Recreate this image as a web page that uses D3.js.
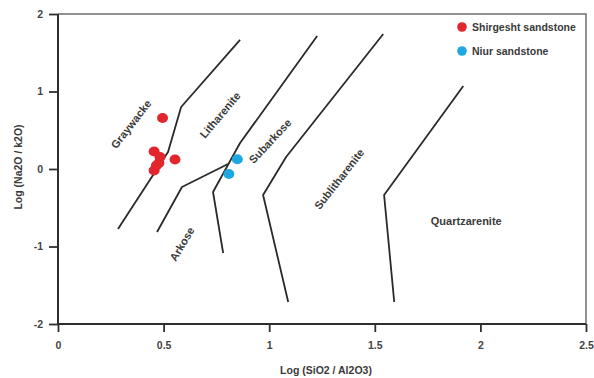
<!DOCTYPE html>
<html>
<head>
<meta charset="utf-8">
<script src="https://cdn.jsdelivr.net/npm/d3@7/dist/d3.min.js"></script>
<style>
  html, body { margin: 0; padding: 0; background: #fff; }
  svg text { font-family: "Liberation Sans", Arial, sans-serif; }
</style>
</head>
<body>
<svg id="chart" width="594" height="378"></svg>
<script>
// Axis ticks
const xTicks = [0, 0.5, 1, 1.5, 2, 2.5];
const yTicks = [-2, -1, 0, 1, 2];

// Samples: log(SiO2/Al2O3), log(Na2O/K2O)
const shirgeshtX = [0.495, 0.455, 0.483, 0.478, 0.455, 0.554, 0.466];
const shirgeshtY = [0.658, 0.226, 0.155, 0.077, -0.019, 0.123, 0.045];
const niurX = [0.849, 0.809];
const niurY = [0.126, -0.065];

// Classification field boundaries (Pettijohn et al.)
const boundaryGraywacke = [[0.862, 1.665], [0.583, 0.800], [0.521, 0.219], [0.284, -0.774]];
const boundaryArkose = [[0.469, -0.813], [0.587, -0.232], [0.805, 0.065]];
const boundarySubarkose = [[0.782, -1.084], [0.734, -0.297], [0.862, 0.335], [1.227, 1.716]];
const boundarySublith = [[1.090, -1.716], [0.971, -0.335], [1.080, 0.155], [1.540, 1.742]];
const boundaryQuartz = [[1.592, -1.716], [1.544, -0.335], [1.919, 1.071]];

// Field names and their anchor points
const fieldNames = ["Graywacke", "Litharenite", "Subarkose", "Sublitharenite", "Arkose", "Quartzarenite"];
const fieldX = [0.346, 0.767, 1.004, 1.331, 0.587, 1.933];
const fieldY = [0.580, 0.697, 0.361, -0.129, -0.968, -0.671];
const fieldAngle = [-52, -50, -47, -52, -59, 0];

const seriesNames = ["Shirgesht sandstone", "Niur sandstone"];
const seriesColors = ["#e2262e", "#1fa8e0"];

const svg = d3.select("#chart");
const plotLeft = 58, plotRight = 586, plotTop = 14, plotBottom = 324;

const x = d3.scaleLinear().domain([0, 2.5]).range([plotLeft, plotRight]);
const y = d3.scaleLinear().domain([-2, 2]).range([plotBottom, plotTop]);

// Frame (top and right)
svg.append("path")
  .attr("d", `M${plotLeft},${plotTop}H${plotRight}V${plotBottom}`)
  .attr("fill", "none").attr("stroke", "#6e6e6e").attr("stroke-width", 1.5);

// Axes
const xAxis = svg.append("g").attr("transform", `translate(0,${plotBottom})`)
  .call(d3.axisBottom(x).tickValues(xTicks).tickSize(8).tickPadding(10)
    .tickFormat(d => String(d)));
const yAxis = svg.append("g").attr("transform", `translate(${plotLeft},0)`)
  .call(d3.axisLeft(y).tickValues(yTicks).tickSize(9).tickPadding(6)
    .tickFormat(d => String(d)));

[xAxis, yAxis].forEach(g => {
  g.select(".domain").attr("stroke", "#2e2e2e").attr("stroke-width", 2);
  g.selectAll(".tick line").attr("stroke", "#2e2e2e").attr("stroke-width", 1.8);
  g.selectAll(".tick text").attr("fill", "#444").attr("font-size", 10.5)
    .attr("font-weight", "bold").attr("font-family", "Liberation Sans, Arial, sans-serif");
});
xAxis.select(".domain").attr("d", `M${plotLeft},0H${plotRight}`);
yAxis.select(".domain").attr("d", `M0,${plotTop}V${plotBottom}`);

// Axis titles
svg.append("text")
  .attr("x", 326).attr("y", 374)
  .attr("text-anchor", "middle")
  .attr("font-size", 10.5).attr("font-weight", "bold").attr("fill", "#3a3a3a")
  .text("Log (SiO2 / Al2O3)");
svg.append("text")
  .attr("transform", "translate(22,167) rotate(-90)")
  .attr("text-anchor", "middle")
  .attr("font-size", 10.5).attr("font-weight", "bold").attr("fill", "#3a3a3a")
  .text("Log (Na2O / k2O)");

// Boundary lines
const line = d3.line().x(d => x(d[0])).y(d => y(d[1]));
[boundaryGraywacke, boundaryArkose, boundarySubarkose, boundarySublith, boundaryQuartz]
  .forEach(b => {
    svg.append("path").attr("d", line(b))
      .attr("fill", "none").attr("stroke", "#2a2a2a").attr("stroke-width", 1.8)
      .attr("stroke-linejoin", "round");
  });

// Field labels
svg.append("g").selectAll("text").data(fieldNames).join("text")
  .attr("transform", (d, i) => `translate(${x(fieldX[i])},${y(fieldY[i])}) rotate(${fieldAngle[i]})`)
  .attr("text-anchor", "middle").attr("dominant-baseline", "central")
  .attr("font-size", 11).attr("font-weight", "bold").attr("fill", "#3a3a3a")
  .text(d => d);

// Sample points
const drawPoints = (xs, ys, color) => {
  svg.append("g").selectAll("ellipse").data(xs).join("ellipse")
    .attr("cx", (d, i) => x(xs[i])).attr("cy", (d, i) => y(ys[i]))
    .attr("rx", 5.5).attr("ry", 5)
    .attr("fill", color);
};
drawPoints(shirgeshtX, shirgeshtY, seriesColors[0]);
drawPoints(niurX, niurY, seriesColors[1]);

// Legend
const legend = svg.append("g").attr("transform", "translate(462,27)");
seriesNames.forEach((name, i) => {
  const row = legend.append("g").attr("transform", `translate(0,${i * 24})`);
  row.append("circle").attr("r", 4.8).attr("fill", seriesColors[i]);
  row.append("text").attr("x", 10).attr("dominant-baseline", "central")
    .attr("font-size", 10.5).attr("font-weight", "bold").attr("fill", "#3a3a3a")
    .text(name);
});
</script>
</body>
</html>
